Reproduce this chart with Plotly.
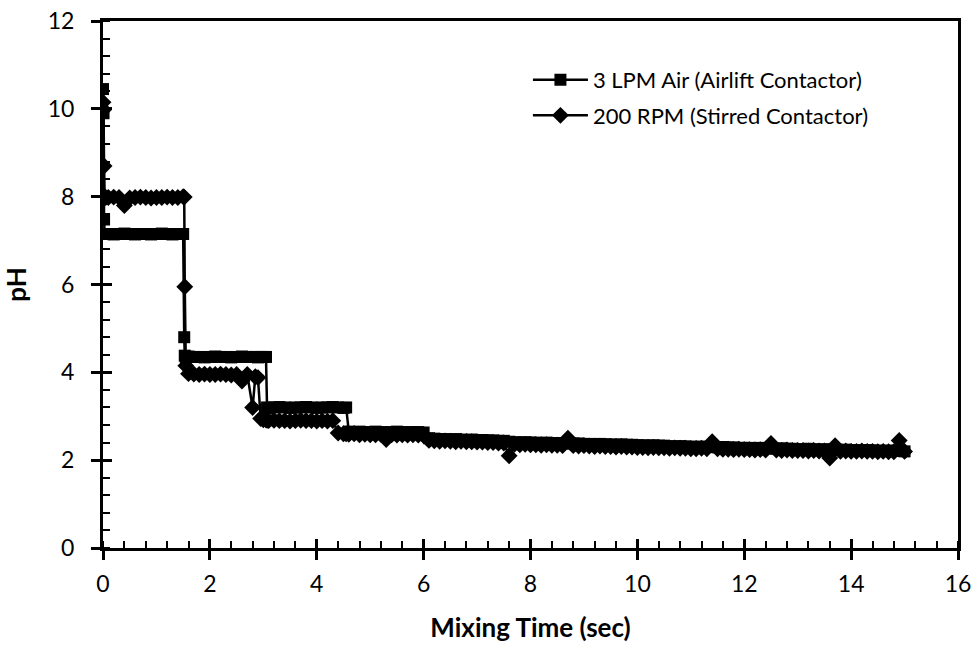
import plotly.graph_objects as go

# Shared sampling times (s)
t_sec = [
    0.00, 0.01, 0.02, 0.03, 0.05,
    0.1, 0.2, 0.3, 0.4, 0.5, 0.6, 0.7, 0.8, 0.9, 1.0,
    1.1, 1.2, 1.3, 1.4, 1.5, 1.52, 1.53, 1.55, 1.6, 1.7, 1.8, 1.9, 2.0,
    2.1, 2.2, 2.3, 2.4, 2.5, 2.6, 2.7, 2.8, 2.85, 2.9, 2.95, 3.0,
    3.05, 3.07, 3.1, 3.2, 3.3, 3.4, 3.5, 3.6, 3.7, 3.8, 3.9, 4.0,
    4.1, 4.2, 4.3, 4.4, 4.5, 4.55, 4.6, 4.7, 4.8, 4.9, 5.0,
    5.1, 5.2, 5.3, 5.4, 5.5, 5.6, 5.7, 5.8, 5.9, 6.0,
    6.1, 6.2, 6.3, 6.4, 6.5, 6.6, 6.7, 6.8, 6.9, 7.0,
    7.1, 7.2, 7.3, 7.4, 7.5, 7.6, 7.7, 7.8, 7.9, 8.0,
    8.1, 8.2, 8.3, 8.4, 8.5, 8.6, 8.7, 8.8, 8.9, 9.0,
    9.1, 9.2, 9.3, 9.4, 9.5, 9.6, 9.7, 9.8, 9.9, 10.0,
    10.1, 10.2, 10.3, 10.4, 10.5, 10.6, 10.7, 10.8, 10.9, 11.0,
    11.1, 11.2, 11.3, 11.4, 11.5, 11.6, 11.7, 11.8, 11.9, 12.0,
    12.1, 12.2, 12.3, 12.4, 12.5, 12.6, 12.7, 12.8, 12.9, 13.0,
    13.1, 13.2, 13.3, 13.4, 13.5, 13.6, 13.7, 13.8, 13.9, 14.0,
    14.1, 14.2, 14.3, 14.4, 14.5, 14.6, 14.7, 14.8, 14.9, 15.0,
]

# pH, 3 LPM air (airlift contactor)
ph_airlift = [
    10.45, 9.90, 7.48, 7.15, 7.15,
    7.15, 7.14, 7.15, 7.16, 7.15, 7.14, 7.15, 7.15, 7.14, 7.15,
    7.16, 7.15, 7.14, 7.15, 7.15, 4.80, 4.38, 4.35, 4.36, 4.35, 4.35, 4.34, 4.35,
    4.36, 4.35, 4.35, 4.34, 4.35, 4.36, 4.35, 4.35, 4.35, 4.34, 4.35, 4.35,
    4.35, 3.20, 3.19, 3.20, 3.21, 3.20, 3.19, 3.20, 3.20, 3.21, 3.20, 3.19,
    3.20, 3.20, 3.21, 3.20, 3.19, 3.20, 2.65, 2.64, 2.65, 2.63, 2.64,
    2.65, 2.64, 2.63, 2.64, 2.65, 2.64, 2.63, 2.64, 2.64, 2.63,
    2.50, 2.49, 2.48, 2.48, 2.47, 2.48, 2.47, 2.46, 2.47, 2.46,
    2.46, 2.45, 2.45, 2.44, 2.44, 2.42, 2.41, 2.40, 2.41, 2.40,
    2.40, 2.39, 2.40, 2.39, 2.39, 2.38, 2.39, 2.38, 2.38, 2.37,
    2.37, 2.36, 2.37, 2.36, 2.36, 2.35, 2.36, 2.35, 2.35, 2.34,
    2.34, 2.33, 2.34, 2.33, 2.33, 2.32, 2.31, 2.32, 2.31, 2.31,
    2.30, 2.31, 2.30, 2.30, 2.29, 2.30, 2.29, 2.29, 2.28, 2.28,
    2.28, 2.27, 2.28, 2.27, 2.27, 2.26, 2.27, 2.26, 2.26, 2.25,
    2.25, 2.26, 2.25, 2.24, 2.25, 2.24, 2.24, 2.23, 2.24, 2.23,
    2.23, 2.22, 2.23, 2.22, 2.22, 2.21, 2.22, 2.21, 2.21, 2.20,
]

# pH, 200 RPM (stirred contactor)
ph_stirred = [
    10.15, 9.98, 8.70, 8.00, 7.98,
    7.98, 7.99, 7.98, 7.80, 7.97, 7.98, 7.99, 7.98, 7.97, 7.98,
    7.98, 7.99, 7.98, 7.98, 8.00, 7.99, 5.95, 4.15, 3.97, 3.96, 3.95, 3.96, 3.95,
    3.95, 3.96, 3.95, 3.94, 3.95, 3.80, 3.95, 3.20, 3.90, 3.88, 2.95, 2.92,
    2.92, 2.91, 2.90, 2.91, 2.90, 2.90, 2.89, 2.90, 2.91, 2.90, 2.90, 2.89,
    2.90, 2.89, 2.90, 2.62, 2.60, 2.60, 2.59, 2.60, 2.58, 2.59, 2.58,
    2.58, 2.59, 2.47, 2.58, 2.57, 2.58, 2.57, 2.58, 2.57, 2.56,
    2.45, 2.44, 2.43, 2.44, 2.43, 2.42, 2.43, 2.42, 2.42, 2.41,
    2.41, 2.40, 2.40, 2.39, 2.39, 2.10, 2.36, 2.35, 2.36, 2.35,
    2.35, 2.34, 2.35, 2.34, 2.34, 2.33, 2.50, 2.33, 2.32, 2.33,
    2.32, 2.31, 2.32, 2.31, 2.31, 2.30, 2.31, 2.30, 2.30, 2.29,
    2.29, 2.28, 2.29, 2.28, 2.28, 2.27, 2.28, 2.27, 2.27, 2.26,
    2.26, 2.27, 2.26, 2.42, 2.26, 2.25, 2.25, 2.24, 2.25, 2.24,
    2.24, 2.23, 2.24, 2.23, 2.38, 2.23, 2.22, 2.23, 2.22, 2.22,
    2.22, 2.21, 2.22, 2.21, 2.21, 2.05, 2.33, 2.20, 2.21, 2.20,
    2.20, 2.21, 2.20, 2.20, 2.19, 2.20, 2.19, 2.19, 2.45, 2.20,
]

FONT = "Lato, Carlito, Calibri, sans-serif"

fig = go.Figure()

fig.add_trace(go.Scatter(
    x=t_sec, y=ph_airlift, mode="lines+markers",
    name="3 LPM Air (Airlift Contactor)", legendgroup="a",
    line=dict(color="black", width=2.5),
    marker=dict(symbol="square", size=12, color="black"),
))
fig.add_trace(go.Scatter(
    x=t_sec, y=ph_stirred, mode="lines+markers",
    name="200 RPM (Stirred Contactor)", legendgroup="b",
    line=dict(color="black", width=2.5),
    marker=dict(symbol="diamond", size=13, color="black"),
))
# empty trace so the inner tick axes are laid out
fig.add_trace(go.Scatter(x=[], y=[], xaxis="x2", yaxis="y2", showlegend=False))

axis_common = dict(
    showgrid=False, zeroline=False, showline=True, linecolor="black",
    linewidth=3, mirror=True, ticks="outside", ticklen=9, tickwidth=3,
    tickcolor="black", tickfont=dict(family=FONT, size=23, color="black"),
    automargin=False,
)

fig.update_layout(
    width=973, height=645,
    margin=dict(l=103, r=15, t=21, b=97),
    paper_bgcolor="white", plot_bgcolor="white",
    showlegend=True,
    legend=dict(
        x=0.497, y=0.928, xanchor="left", yanchor="top",
        font=dict(family=FONT, size=22, color="black"),
        bgcolor="rgba(0,0,0,0)", itemwidth=55, tracegroupgap=4,
    ),
    xaxis=dict(
        range=[0, 16], dtick=2, tick0=0,
        minor=dict(dtick=0.4, ticks="inside", ticklen=7, tickwidth=2, tickcolor="black"),
        title=dict(text="<b>Mixing Time (sec)</b>", standoff=24,
                   font=dict(family=FONT, size=26, color="black")),
        ticklabelstandoff=4,
        **axis_common,
    ),
    yaxis=dict(
        range=[0, 12], dtick=2, tick0=0,
        minor=dict(dtick=0.4, ticks="inside", ticklen=7, tickwidth=2, tickcolor="black"),
        title=dict(text="<b>pH</b>", standoff=18,
                   font=dict(family=FONT, size=26, color="black")),
        ticklabelstandoff=12,
        **axis_common,
    ),
    xaxis2=dict(
        overlaying="x", anchor="y", side="bottom", range=[0, 16], dtick=2, tick0=0,
        ticks="inside", ticklen=9, tickwidth=3, tickcolor="black",
        showticklabels=False, showgrid=False, zeroline=False, showline=False,
    ),
    yaxis2=dict(
        overlaying="y", anchor="x", side="left", range=[0, 12], dtick=2, tick0=0,
        ticks="inside", ticklen=9, tickwidth=3, tickcolor="black",
        showticklabels=False, showgrid=False, zeroline=False, showline=False,
    ),
)

fig.write_html("out.html")
